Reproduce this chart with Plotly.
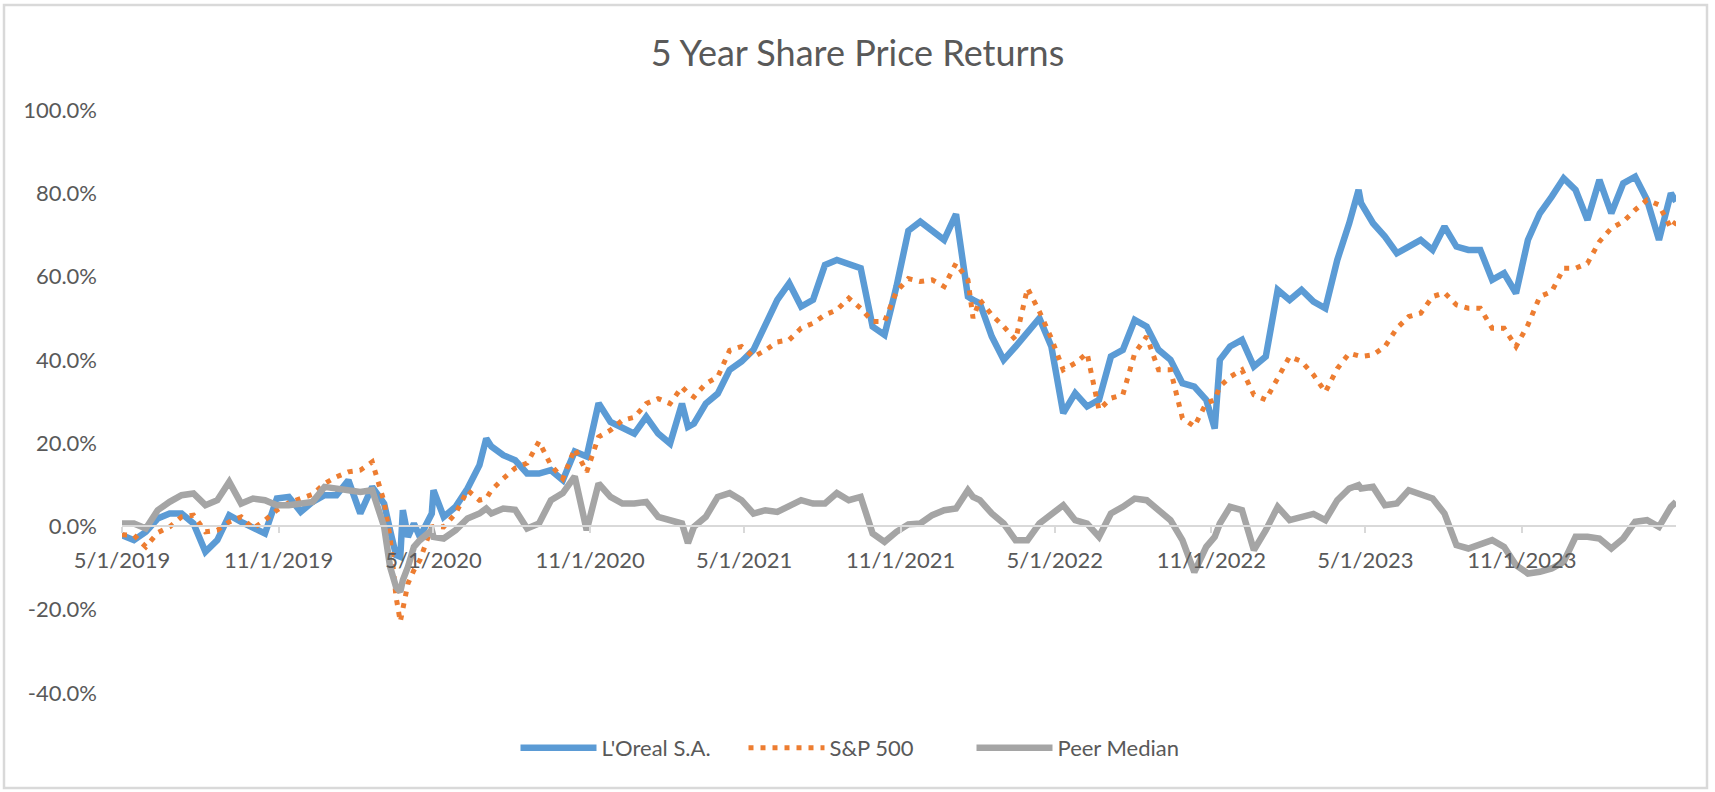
import pandas as pd
import plotly.graph_objects as go

# ---------------- data (in %) ----------------
start_date = "2019-05-01"

day_offsets = [0, 14, 28, 42, 56, 70, 84, 98, 112, 126, 140, 154, 168, 182, 196, 210, 224, 238, 252, 266,
               280, 294, 308, 315, 322, 327, 330, 336, 343, 350, 364, 366, 378, 392, 406, 420, 428, 434, 448, 462,
               476, 490, 504, 518, 532, 546, 560, 574, 588, 602, 616, 630, 644, 658, 665, 672, 686, 700, 714, 728,
               742, 756, 770, 784, 798, 812, 826, 840, 854, 868, 882, 896, 910, 924, 938, 952, 966, 980, 994, 1000,
               1008, 1022, 1036, 1050, 1064, 1078, 1092, 1106, 1120, 1134, 1148, 1162, 1176, 1190, 1204, 1218, 1232, 1246, 1260, 1274,
               1284, 1290, 1302, 1316, 1330, 1344, 1358, 1372, 1386, 1400, 1414, 1428, 1442, 1453, 1456, 1470, 1484, 1498, 1512, 1526,
               1540, 1554, 1568, 1582, 1596, 1610, 1624, 1638, 1652, 1666, 1680, 1694, 1708, 1722, 1736, 1750, 1764, 1778, 1792, 1806,
               1820, 1826]

loreal = [-2.1, -3.3, -1.3, 1.9, 3.1, 3.1, 0.7, -6.1, -3.3, 2.7, 1.1, -0.1, -1.7, 6.7, 7.1, 3.5, 5.9, 7.5, 7.5, 11.1,
          3.1, 9.5, 5.5, -0.9, -6.9, -7.3, 3.9, -2.5, 0.7, -2.5, 3.1, 8.7, 2.3, 4.7, 9.1, 14.7, 21.1, 19.2, 17.1, 15.9,
          12.7, 12.7, 13.5, 11.1, 18.0, 16.8, 29.6, 25.1, 23.9, 22.3, 26.3, 22.3, 19.9, 29.5, 23.9, 24.7, 29.5, 31.9, 37.6, 39.6,
          42.4, 48.0, 54.4, 58.4, 52.8, 54.4, 62.8, 64.0, 62.8, 62.0, 48.0, 46.0, 57.6, 71.0, 73.2, 71.2, 68.8, 75.0, 55.2, 54.4,
          53.6, 45.6, 40.0, 43.2, 46.4, 50.0, 43.2, 27.2, 32.0, 28.8, 30.4, 40.8, 42.4, 49.6, 48.0, 42.4, 40.0, 34.4, 33.6, 30.4,
          23.5, 40.0, 43.2, 44.8, 38.4, 40.8, 56.8, 54.4, 56.8, 54.0, 52.4, 64.0, 72.8, 80.8, 77.6, 72.8, 69.6, 65.6, 67.2, 68.8,
          66.4, 72.0, 67.2, 66.4, 66.4, 59.2, 60.8, 56.0, 68.8, 75.2, 79.2, 83.6, 80.8, 73.6, 83.2, 75.2, 82.4, 84.0, 78.4, 68.8,
          80.0, 78.0]

sp500 = [-2.0, -2.1, -4.9, -1.5, -0.1, 2.3, 2.7, -1.3, -0.9, 1.1, 2.3, -0.5, 1.5, 3.9, 5.7, 6.7, 7.7, 10.3, 11.9, 13.1,
         13.5, 15.5, 5.9, -2.5, -16.9, -22.9, -20.1, -13.7, -10.5, -8.1, -0.1, 0.0, -0.1, 3.1, 8.7, 6.3, 6.7, 8.7, 11.5, 14.0,
         15.2, 20.4, 14.7, 11.5, 18.7, 13.1, 21.5, 23.1, 25.5, 26.2, 29.5, 30.7, 29.5, 33.5, 32.0, 31.1, 34.3, 35.9, 42.3, 43.2,
         40.7, 42.3, 44.3, 44.8, 47.6, 48.8, 50.8, 52.0, 54.8, 52.4, 49.2, 49.2, 56.4, 59.5, 58.8, 59.2, 57.6, 63.2, 59.2, 50.0,
         54.4, 50.8, 48.0, 44.8, 57.2, 51.6, 45.2, 37.6, 39.2, 41.6, 28.0, 30.8, 31.6, 41.6, 45.6, 37.6, 37.6, 26.0, 24.0, 29.6,
         30.4, 33.6, 35.9, 37.6, 31.6, 30.4, 35.6, 40.8, 39.6, 36.4, 32.3, 37.9, 41.6, 41.2, 40.8, 41.2, 43.2, 47.6, 50.4, 51.2,
         55.2, 56.1, 53.2, 52.4, 52.4, 47.6, 47.6, 43.2, 48.4, 55.2, 56.4, 62.0, 62.0, 63.2, 68.4, 71.6, 73.2, 76.0, 78.4, 77.2,
         71.6, 73.2]

peer_median = [0.7, 0.7, -0.5, 3.9, 5.9, 7.5, 7.9, 5.1, 6.3, 10.7, 5.5, 6.7, 6.3, 5.1, 5.1, 5.5, 5.9, 9.5, 9.1, 8.7,
               8.3, 8.7, -0.1, -9.7, -14.5, -15.7, -12.9, -9.7, -4.9, -3.3, -0.9, -2.5, -2.9, -0.9, 1.9, 3.1, 4.3, 3.1, 4.3, 4.0,
               -0.5, 0.7, 6.3, 8.0, 12.0, -0.9, 10.3, 7.1, 5.5, 5.5, 5.9, 2.3, 1.5, 0.7, -4.0, -0.1, 2.3, 7.1, 8.0, 6.3,
               3.1, 3.9, 3.5, 5.1, 6.3, 5.5, 5.5, 8.0, 6.3, 7.1, -1.7, -3.7, -1.3, 0.5, 0.7, 2.7, 3.9, 4.3, 8.7, 7.1,
               6.3, 3.1, 0.7, -3.3, -3.3, 0.7, 2.7, 5.1, 1.5, 0.7, -2.5, 3.1, 4.7, 6.7, 6.3, 3.9, 1.5, -3.3, -11.0, -4.9,
               -2.5, 0.7, 4.7, 3.9, -5.7, -0.9, 4.7, 1.5, 2.3, 3.0, 1.5, 6.3, 9.1, 9.9, 9.1, 9.5, 5.1, 5.5, 8.7, 7.5,
               6.7, 3.1, -4.5, -5.3, -4.1, -3.3, -4.9, -9.3, -11.3, -10.9, -10.1, -8.5, -2.5, -2.5, -2.9, -5.3, -2.9, 1.1, 1.5, -0.1,
               4.7, 5.9]

tick_dates = ["2019-05-01", "2019-11-01", "2020-05-01", "2020-11-01", "2021-05-01",
              "2021-11-01", "2022-05-01", "2022-11-01", "2023-05-01", "2023-11-01"]
tick_labels = ["5/1/2019", "11/1/2019", "5/1/2020", "11/1/2020", "5/1/2021",
               "11/1/2021", "5/1/2022", "11/1/2022", "5/1/2023", "11/1/2023"]
y_ticks = [-40, -20, 0, 20, 40, 60, 80, 100]
y_tick_labels = ["-40.0%", "-20.0%", "0.0%", "20.0%", "40.0%", "60.0%", "80.0%", "100.0%"]

dates = pd.to_datetime(start_date) + pd.to_timedelta(day_offsets, unit="D")

# ---------------- figure ----------------
W, H = 1715, 792
ML, MR, MT, MB = 122, 39, 110, 99
plot_w = W - ML - MR
plot_h = H - MT - MB
y_min, y_max = -40, 100

TXT = "#595959"
FONT = "Lato, 'Open Sans', sans-serif"

fig = go.Figure()
fig.add_trace(go.Scatter(x=dates, y=loreal, mode="lines", name="L'Oreal S.A.",
                         line=dict(color="#5B9BD5", width=6.5)))
fig.add_trace(go.Scatter(x=dates, y=sp500, mode="lines", name="S&P 500",
                         line=dict(color="#ED7D31", width=5, dash="5px,7px")))
fig.add_trace(go.Scatter(x=dates, y=peer_median, mode="lines", name="Peer Median",
                         line=dict(color="#A5A5A5", width=6.5)))

# outer chart border (Excel chart area)
fig.add_shape(type="rect", xref="paper", yref="paper",
              x0=(4 - ML) / plot_w, x1=(W - 8 - ML) / plot_w,
              y0=-(H - 4 - (MT + plot_h)) / plot_h, y1=(MT + plot_h - 5) / plot_h,
              line=dict(color="#D9D9D9", width=2.5), fillcolor="rgba(0,0,0,0)", layer="below")

fig.update_layout(
    width=W, height=H, autosize=False,
    paper_bgcolor="white", plot_bgcolor="white",
    margin=dict(l=ML, r=MR, t=MT, b=MB, autoexpand=False),
    font=dict(family=FONT, color=TXT, size=22),
    title=dict(text="5 Year Share Price Returns", xref="container", x=0.5, xanchor="center",
               yref="container", y=1 - 53 / H, yanchor="middle",
               font=dict(family=FONT, size=36, color=TXT)),
    showlegend=True,
    legend=dict(orientation="h", xref="container", x=0.5, xanchor="center",
                yref="container", y=1 - 748 / H, yanchor="middle",
                font=dict(family=FONT, size=22, color=TXT), itemwidth=76,
                entrywidth=137, entrywidthmode="pixels",
                bgcolor="rgba(0,0,0,0)"),
    xaxis=dict(type="date", range=["2019-05-01", "2024-04-30"], automargin=False,
               anchor="free", position=(0 - y_min) / (y_max - y_min),
               showline=True, linecolor="#D9D9D9", linewidth=2,
               ticks="outside", ticklen=6, tickcolor="#D9D9D9", tickwidth=2,
               tickvals=tick_dates, ticktext=tick_labels,
               showgrid=False, zeroline=False, ticklabelstandoff=8,
               tickfont=dict(family=FONT, size=22, color=TXT)),
    yaxis=dict(range=[y_min, y_max], tickvals=y_ticks, ticktext=y_tick_labels, automargin=False,
               showgrid=False, zeroline=False, showline=False, ticks="",
               ticklabelstandoff=24,
               tickfont=dict(family=FONT, size=22, color=TXT)),
)

fig.write_html("out.html")
